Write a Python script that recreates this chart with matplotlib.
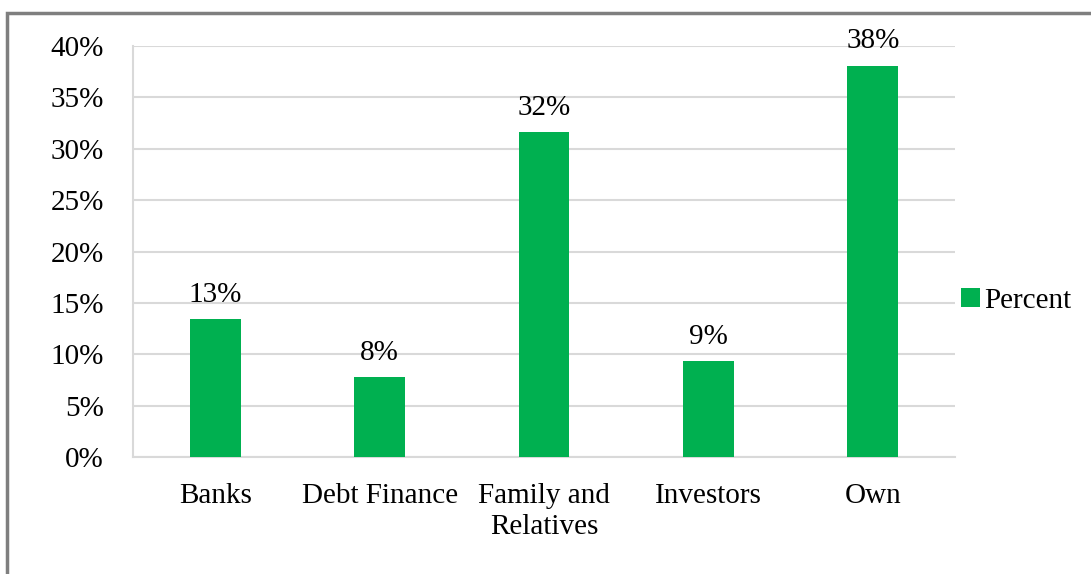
import matplotlib.pyplot as plt
from matplotlib.patches import Rectangle

categories = ['Banks', 'Debt Finance', 'Family and\nRelatives', 'Investors', 'Own']
percent = [13.4, 7.8, 31.6, 9.3, 38.1]
yticks = [0, 5, 10, 15, 20, 25, 30, 35, 40]

plt.rcParams['font.family'] = ['Liberation Serif', 'DejaVu Serif']
FS = 21

fig = plt.figure(figsize=(10.91, 5.74), dpi=100)
ax = fig.add_axes([133 / 1091, 1 - 457 / 574, 822 / 1091, 411 / 574])

x = range(len(categories))
bars = ax.bar(x, percent, width=0.31, color='#00B050', label='Percent', zorder=3)
for b, v in zip(bars, percent):
    ax.text(b.get_x() + b.get_width() / 2, v + 1.1, f'{v:.0f}%',
            ha='center', va='bottom', fontsize=FS)

ax.set_xlim(-0.5, len(categories) - 0.5)
ax.set_ylim(0, 40)
ax.set_yticks(yticks)
ax.set_yticklabels([f'{t}%' for t in yticks], fontsize=FS)
ax.set_xticks(list(x))
ax.set_xticklabels(categories, fontsize=FS, linespacing=1.25, va='top')
ax.tick_params(axis='x', length=0, pad=19)
ax.tick_params(axis='y', length=0, pad=21)
ax.grid(axis='y', color='#D9D9D9', linewidth=1.5, zorder=0)
for side in ['top', 'right']:
    ax.spines[side].set_visible(False)
for side in ['left', 'bottom']:
    ax.spines[side].set_color('#D9D9D9')
    ax.spines[side].set_linewidth(1.5)

ax.legend(loc='center left', bbox_to_anchor=(1.0, 0.38), frameon=False,
          fontsize=FS, handlelength=0.65, handleheight=0.65, handletextpad=0.15,
          borderaxespad=0.0, borderpad=0.2)

# chart border, only the top and left edges fall inside the image
fig.patches.append(Rectangle((7 / 1091, -0.1), 1.2, 1 - 13 / 574 + 0.1,
                             transform=fig.transFigure, fill=False,
                             edgecolor='#7F7F7F', linewidth=2.5))

fig.savefig('out.png', dpi=100)
